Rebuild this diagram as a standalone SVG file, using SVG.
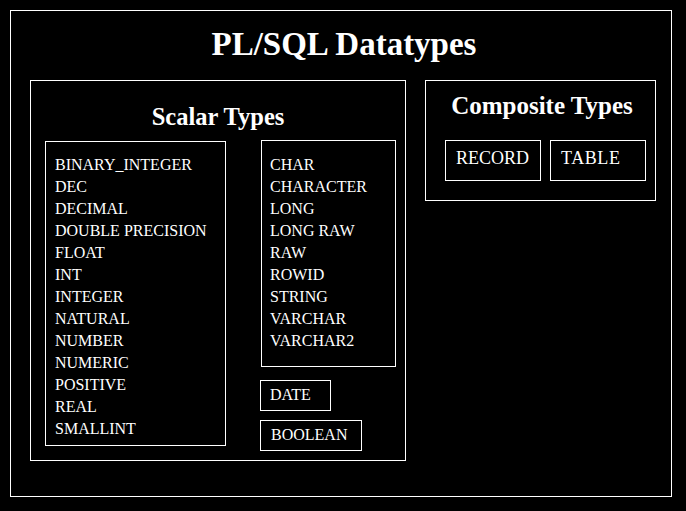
<svg xmlns="http://www.w3.org/2000/svg" width="686" height="511" viewBox="0 0 686 511">
<style>
.box{fill:none;stroke:#fff;stroke-width:1}
.h{font-family:"Liberation Serif","Times New Roman",serif;font-weight:bold;fill:#fff;text-anchor:middle}
.t{font-family:"Liberation Serif","Times New Roman",serif;fill:#fff;font-size:16px}
.c{font-family:"Liberation Serif","Times New Roman",serif;fill:#fff;font-size:18px}
</style>
<rect x="0" y="0" width="686" height="511" fill="#000"/>
<g id="datatypes">
<rect class="box" x="10.5" y="10.5" width="661" height="486"/>
<text class="h" x="344" y="55" font-size="33">PL/SQL Datatypes</text>
</g>
<g id="scalar">
<rect class="box" x="30.5" y="80.5" width="375" height="380"/>
<text class="h" x="218" y="125" font-size="24.5">Scalar Types</text>
</g>
<g id="numeric-list">
<rect class="box" x="45.5" y="141.5" width="180" height="304"/>
<text class="t" x="55" y="170">BINARY_INTEGER</text>
<text class="t" x="55" y="192">DEC</text>
<text class="t" x="55" y="214">DECIMAL</text>
<text class="t" x="55" y="236">DOUBLE PRECISION</text>
<text class="t" x="55" y="258">FLOAT</text>
<text class="t" x="55" y="280">INT</text>
<text class="t" x="55" y="302">INTEGER</text>
<text class="t" x="55" y="324">NATURAL</text>
<text class="t" x="55" y="346">NUMBER</text>
<text class="t" x="55" y="368">NUMERIC</text>
<text class="t" x="55" y="390">POSITIVE</text>
<text class="t" x="55" y="412">REAL</text>
<text class="t" x="55" y="434">SMALLINT</text>
</g>
<g id="char-list">
<rect class="box" x="261.5" y="140.5" width="134" height="226"/>
<text class="t" x="270" y="170">CHAR</text>
<text class="t" x="270" y="192">CHARACTER</text>
<text class="t" x="270" y="214">LONG</text>
<text class="t" x="270" y="236">LONG RAW</text>
<text class="t" x="270" y="258">RAW</text>
<text class="t" x="270" y="280">ROWID</text>
<text class="t" x="270" y="302">STRING</text>
<text class="t" x="270" y="324">VARCHAR</text>
<text class="t" x="270" y="346">VARCHAR2</text>
</g>
<g id="date">
<rect class="box" x="260.5" y="380.5" width="70" height="30"/>
<text class="t" x="270" y="400">DATE</text>
</g>
<g id="boolean">
<rect class="box" x="260.5" y="420.5" width="101" height="30"/>
<text class="t" x="271" y="440">BOOLEAN</text>
</g>
<g id="composite">
<rect class="box" x="425.5" y="80.5" width="230" height="120"/>
<text class="h" x="542" y="114" font-size="25">Composite Types</text>
</g>
<g id="record">
<rect class="box" x="445.5" y="140.5" width="95" height="40"/>
<text class="c" x="456" y="164">RECORD</text>
</g>
<g id="table">
<rect class="box" x="550.5" y="140.5" width="95" height="40"/>
<text class="c" x="561" y="164" letter-spacing="0.6">TABLE</text>
</g>
<g id="connectors"></g>
</svg>
